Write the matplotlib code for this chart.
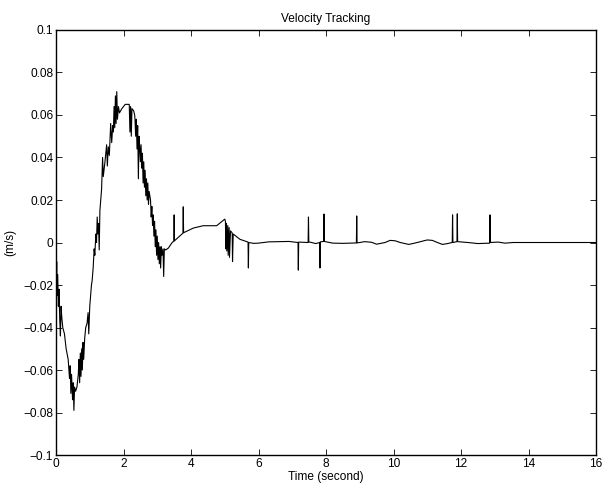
import matplotlib
matplotlib.use('Agg')
import matplotlib.pyplot as plt
import numpy as np

# === data (time in s, velocity error in m/s) ===
# start-up chatter, 0 - 1 s
t_start = [0.00, 0.01, 0.02, 0.03, 0.05, 0.07, 0.09, 0.11, 0.13, 0.15, 0.17, 0.20,
           0.25, 0.30, 0.36, 0.40, 0.42, 0.44, 0.46, 0.49, 0.51, 0.53, 0.55, 0.58,
           0.62, 0.66, 0.68, 0.70, 0.72, 0.74, 0.76, 0.78, 0.80, 0.82, 0.85, 0.88,
           0.92, 0.95, 0.97]
v_start = [-0.010, -0.020, -0.009, -0.025, -0.015, -0.030, -0.022, -0.036, -0.044,
           -0.030, -0.035, -0.040, -0.043, -0.050, -0.055, -0.064, -0.058, -0.071,
           -0.062, -0.074, -0.066, -0.079, -0.068, -0.070, -0.068, -0.062, -0.055,
           -0.066, -0.052, -0.063, -0.050, -0.060, -0.047, -0.055, -0.045, -0.040,
           -0.038, -0.033, -0.043]

# rise to the peak with chatter, 1 - 2.3 s
t_rise = [1.00, 1.05, 1.07, 1.10, 1.13, 1.15, 1.18, 1.20, 1.22, 1.24, 1.26, 1.28,
          1.30, 1.35, 1.38, 1.40, 1.45, 1.50, 1.52, 1.55, 1.58, 1.62, 1.65, 1.68,
          1.70, 1.72, 1.74, 1.76, 1.78, 1.80, 1.82, 1.85, 1.88, 1.95, 2.05, 2.15,
          2.17, 2.19, 2.21, 2.23, 2.25, 2.30]
v_rise = [-0.030, -0.020, -0.018, -0.012, -0.003, -0.006, 0.004, 0.000, 0.012,
          0.004, 0.009, -0.0035, 0.015, 0.025, 0.040, 0.031, 0.038, 0.046, 0.036,
          0.045, 0.041, 0.056, 0.047, 0.055, 0.052, 0.064, 0.054, 0.069, 0.056,
          0.071, 0.058, 0.064, 0.061, 0.063, 0.065, 0.065, 0.065, 0.052, 0.064,
          0.050, 0.063, 0.062]

# fall with chatter, 2.3 - 3.3 s
t_fall = [2.33, 2.34, 2.36, 2.38, 2.40, 2.42, 2.44, 2.46, 2.48, 2.50, 2.52, 2.54,
          2.56, 2.58, 2.60, 2.62, 2.64, 2.66, 2.68, 2.70, 2.72, 2.74, 2.76, 2.80,
          2.82, 2.84, 2.86, 2.88, 2.90, 2.92, 2.94, 2.96, 2.98, 3.00, 3.02, 3.04,
          3.06, 3.08, 3.10, 3.12, 3.14, 3.17, 3.19, 3.21, 3.25, 3.33]
v_fall = [0.060, 0.058, 0.050, 0.058, 0.044, 0.055, 0.030, 0.050, 0.045, 0.038,
          0.046, 0.035, 0.042, 0.028, 0.038, 0.026, 0.034, 0.022, 0.030, 0.020,
          0.028, 0.018, 0.024, 0.020, 0.012, 0.017, 0.008, 0.013, 0.003, 0.010,
          -0.002, 0.006, -0.006, 0.003, -0.008, 0.000, -0.010, -0.002, -0.012,
          -0.002, -0.006, -0.003, -0.016, -0.003, -0.0035, -0.0026]

# slow hump and settling, 3.3 - 16 s (single-sample spikes included)
t_settle = [3.45, 3.49, 3.50, 3.51, 3.76, 3.77, 3.78, 4.07, 4.36, 4.76, 5.00, 5.02,
            5.03, 5.05, 5.06, 5.09, 5.10, 5.13, 5.14, 5.17, 5.22, 5.23, 5.25, 5.45,
            5.69, 5.70, 5.71, 5.85, 6.00, 6.30, 6.60, 6.90, 7.17, 7.18, 7.19, 7.47,
            7.48, 7.49, 7.70, 7.81, 7.82, 7.83, 7.93, 7.94, 7.95, 8.20, 8.50, 8.90,
            8.91, 8.92, 9.00, 9.15, 9.35, 9.50, 9.75, 9.90, 10.05, 10.20, 10.45,
            10.60, 10.80, 11.00, 11.15, 11.30, 11.45, 11.60, 11.74, 11.75, 11.76,
            11.88, 11.89, 11.90, 12.20, 12.50, 12.85, 12.86, 12.87, 13.10, 13.30,
            13.55, 16.00]
v_settle = [0.0002, 0.0005, 0.013, 0.0008, 0.0044, 0.0168, 0.0046, 0.0068, 0.0079,
            0.0079, 0.011, 0.010, -0.003, 0.009, -0.004, 0.008, -0.006, 0.007,
            -0.007, 0.0055, 0.0045, -0.009, 0.004, 0.0015, 0.0002, -0.012, 0.0,
            -0.0004, -0.0003, 0.0003, 0.0004, 0.0005, 0.0, -0.013, 0.0002, 0.0,
            0.012, 0.0003, -0.0005, 0.0, -0.012, 0.0003, 0.0005, 0.0134, 0.0005,
            -0.0003, -0.0004, -0.0002, 0.0125, -0.0002, 0.0, 0.0004, 0.0001,
            -0.0008, 0.0, 0.0010, 0.0008, 0.0, -0.0009, -0.0004, 0.0004, 0.0012,
            0.0010, 0.0, -0.0009, -0.0005, 0.0, 0.013, 0.0, 0.0004, 0.0135, 0.0004,
            0.0, -0.0005, -0.0003, 0.013, 0.0, 0.0002, -0.0003, 0.0, 0.0]

x_ticks = [0, 2, 4, 6, 8, 10, 12, 14, 16]
y_ticks = [-0.1, -0.08, -0.06, -0.04, -0.02, 0, 0.02, 0.04, 0.06, 0.08, 0.1]
y_tick_labels = ['\u22120.1', '\u22120.08', '\u22120.06', '\u22120.04', '\u22120.02',
                 '0', '0.02', '0.04', '0.06', '0.08', '0.1']

t = np.array(t_start + t_rise + t_fall + t_settle)
v = np.array(v_start + v_rise + v_fall + v_settle)

plt.rcParams['font.family'] = ['Liberation Sans', 'DejaVu Sans']

fig = plt.figure(figsize=(6.03, 4.94), dpi=100)
ax = fig.add_axes([0.0929, 0.0789, 0.8955, 0.8604])

ax.plot(t, v, color='black', linewidth=0.8)

ax.set_xlim(0, 16)
ax.set_ylim(-0.1, 0.1)
ax.set_xticks(x_ticks)
ax.set_xticklabels([str(x) for x in x_ticks])
ax.set_yticks(y_ticks)
ax.set_yticklabels(y_tick_labels)
ax.tick_params(direction='in', top=True, right=True, length=4, width=0.6,
               labelsize=8.6, pad=2)
for sp in ax.spines.values():
    sp.set_linewidth(1.0)

ax.set_title('Velocity Tracking', fontsize=8.6, pad=6)
ax.set_xlabel('Time (second)', fontsize=8.6, labelpad=1)
ax.set_ylabel('(m/s)', fontsize=8.6, labelpad=5)

fig.savefig('out.png', dpi=100, facecolor='white')
